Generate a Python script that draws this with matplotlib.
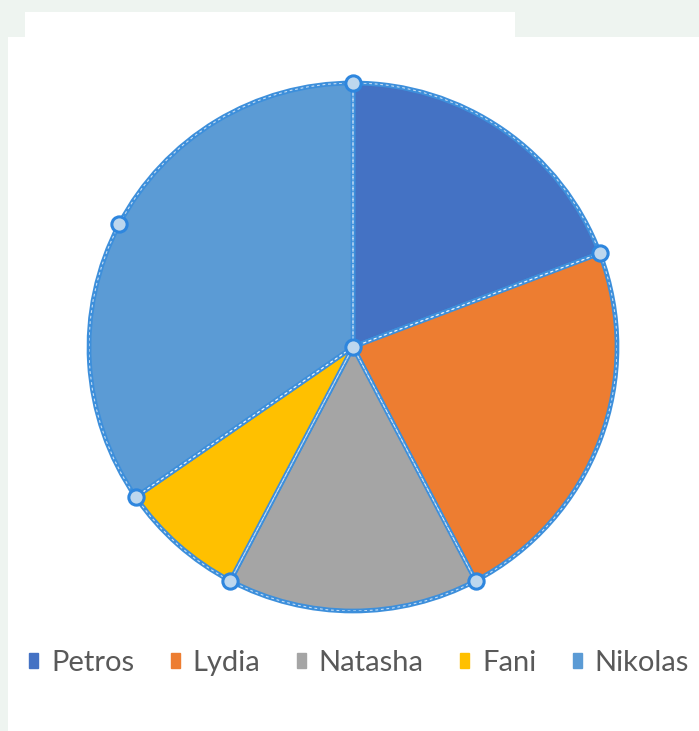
import matplotlib
matplotlib.use("Agg")
import matplotlib.pyplot as plt
import matplotlib.patches as mpatches
import numpy as np

names = ["Petros", "Lydia", "Natasha", "Fani", "Nikolas"]
values = [5, 6, 4, 2, 9]
colors = ["#4472c4", "#ed7d31", "#a5a5a5", "#ffc000", "#5b9bd5"]

W, H = 699, 731
fig = plt.figure(figsize=(W / 100, H / 100), dpi=100, facecolor="#eef4f0")

# white chart area
fig.patches.append(mpatches.Rectangle((25 / W, 1 - 40 / H), (515 - 25) / W, 28 / H,
                                      transform=fig.transFigure, facecolor="white",
                                      edgecolor="none", zorder=-5))
fig.patches.append(mpatches.Rectangle((8 / W, 0), 1 - 8 / W, 1 - 37 / H,
                                      transform=fig.transFigure, facecolor="white",
                                      edgecolor="none", zorder=-5))

cx, cy, r = 353, 347, 264
ax = fig.add_axes([(cx - r) / W, (H - cy - r) / H, 2 * r / W, 2 * r / H])
ax.set_zorder(2)
ax.set_facecolor("none")

wedges, _ = ax.pie(values, colors=colors, startangle=90, counterclock=False, radius=1,
                   wedgeprops=dict(edgecolor="#3d8fdb", linewidth=3.4))
for w in wedges:
    w2 = mpatches.Wedge(w.center, w.r, w.theta1, w.theta2, facecolor="none",
                        edgecolor="white", linewidth=0.8, alpha=0.7,
                        linestyle=(0, (2.5, 2.5)), zorder=3)
    ax.add_patch(w2)

# selection handles
pts = [(0.0, 0.0)]
for w in wedges:
    t = np.deg2rad(w.theta1)
    pts.append((np.cos(t), np.sin(t)))
wn = wedges[-1]
tm = np.deg2rad((wn.theta1 + wn.theta2) / 2)
pts.append((np.cos(tm), np.sin(tm)))
px, py = zip(*pts)
ax.plot(px, py, "o", ms=11, mfc="#bdd7ee", mec="#2e86de", mew=2.2, zorder=5, clip_on=False)

ax.set_xlim(-1, 1)
ax.set_ylim(-1, 1)
ax.set_aspect("equal")
ax.axis("off")

handles = [mpatches.Patch(color=c, label=n) for c, n in zip(colors, names)]
leg = fig.legend(handles=handles, loc="center", bbox_to_anchor=(0.514, 1 - 663 / H), ncol=5,
                 frameon=False, prop={"family": "Lato", "size": 21},
                 handlelength=0.3, handleheight=0.42, handletextpad=0.45, columnspacing=1.25)
for t in leg.get_texts():
    t.set_color("#595959")

fig.savefig("out.png", dpi=100, facecolor=fig.get_facecolor())
